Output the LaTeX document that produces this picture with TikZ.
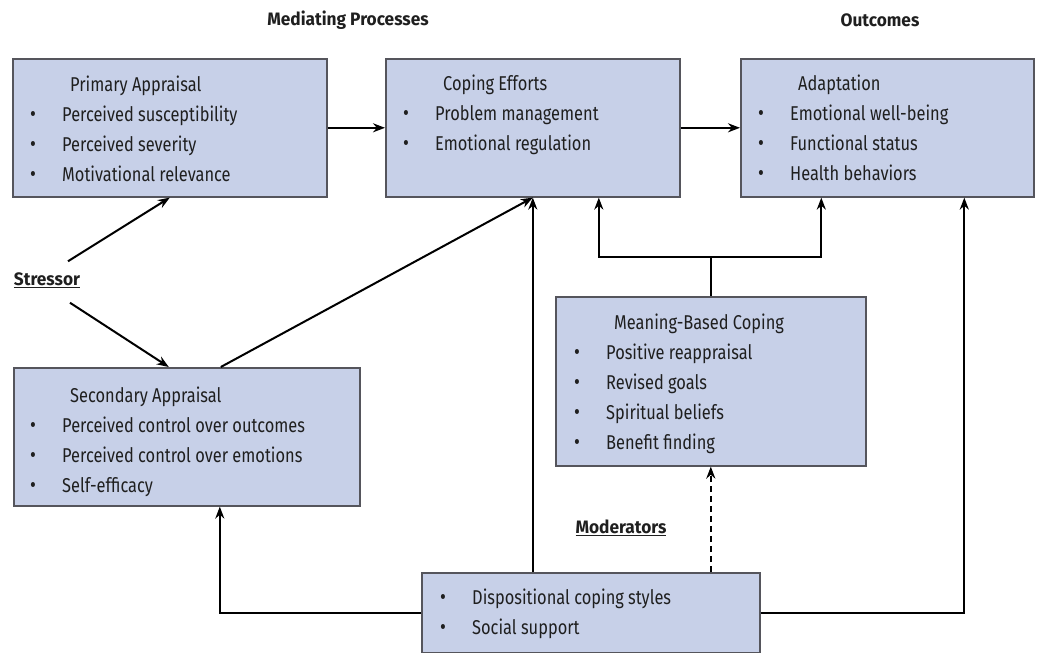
\documentclass[tikz,border=0pt]{standalone}
\usepackage{fontspec}
\setmainfont{Fira Sans}[FakeStretch=0.82]
\newfontfamily\lblfont{Fira Sans}[FakeStretch=0.96]
\usepackage{tikz}
\usetikzlibrary{arrows.meta}

\definecolor{boxfill}{RGB}{199,208,232}
\definecolor{boxline}{RGB}{85,85,92}
\newcommand{\itm}[1]{\makebox[32pt][l]{\raisebox{0.5pt}{\fontsize{22}{22}\selectfont\textbullet}}#1}
\newcommand{\hdg}[1]{\hspace*{40pt}#1}

\begin{document}
\begin{tikzpicture}[x=1pt, y=-1pt,
        box/.style={draw=boxline, fill=boxfill, line width=1.6pt, anchor=north west, inner sep=0pt},
        txt/.style={anchor=north west, align=left, inner sep=0pt, text=black!88, font=\fontsize{20}{30}\selectfont},
        arr/.style={line width=2pt, -{Stealth[length=12pt,width=9pt]}},
        lbl/.style={inner sep=2pt, text=black!88, font=\lblfont\fontsize{18}{20}\selectfont\bfseries}]
        \useasboundingbox (0,0) rectangle (1044,653);

        % Column titles
        \node[lbl] (medtitle) at (348,20) {Mediating Processes};
        \node[lbl] (outtitle) at (880,20) {Outcomes};

        % Draw the boxes
        \node[box, minimum width=314pt, minimum height=138pt] (primary) at (12,58) {};
        \node[box, minimum width=294pt, minimum height=138pt] (coping) at (385,58) {};
        \node[box, minimum width=293pt, minimum height=138pt] (adapt) at (740,58) {};
        \node[box, minimum width=346pt, minimum height=138pt] (secondary) at (13,367) {};
        \node[box, minimum width=310pt, minimum height=169pt] (meaning) at (555,296) {};
        \node[box, minimum width=338pt, minimum height=80pt] (moder) at (421,572) {};

        % Box texts
        \node[txt] (primarytxt) at ([xshift=18pt,yshift=-18pt]primary.north west)
            {\hdg{Primary Appraisal}\\ \itm{Perceived susceptibility}\\ \itm{Perceived severity}\\ \itm{Motivational relevance}};
        \node[txt] (copingtxt) at ([xshift=18pt,yshift=-17pt]coping.north west)
            {\hdg{Coping Efforts}\\ \itm{Problem management}\\ \itm{Emotional regulation}};
        \node[txt] (adapttxt) at ([xshift=18pt,yshift=-17pt]adapt.north west)
            {\hdg{Adaptation}\\ \itm{Emotional well-being}\\ \itm{Functional status}\\ \itm{Health behaviors}};
        \node[txt] (secondarytxt) at ([xshift=17pt,yshift=-20pt]secondary.north west)
            {\hdg{Secondary Appraisal}\\ \itm{Perceived control over outcomes}\\ \itm{Perceived control over emotions}\\ \itm{Self-efficacy}};
        \node[txt] (meaningtxt) at ([xshift=19pt,yshift=-18pt]meaning.north west)
            {\hdg{Meaning-Based Coping}\\ \itm{Positive reappraisal}\\ \itm{Revised goals}\\ \itm{Spiritual beliefs}\\ \itm{Benefit finding}};
        \node[txt] (modertxt) at ([xshift=19pt,yshift=-17pt]moder.north west)
            {\itm{Dispositional coping styles}\\ \itm{Social support}};

        % Free labels
        \node[lbl] (stressor) at (47,280) {\underline{Stressor}};
        \node[lbl] (modlabel) at (621,528) {\underline{Moderators}};

        % Main chain
        \draw[arr] (primary.east) -- (coping.west);
        \draw[arr] (coping.east) -- (adapt.west);

        % Stressor into the appraisals
        \draw[arr] ([xshift=21pt,yshift=9pt]stressor.north) -- (primary.south);
        \draw[arr] ([xshift=23pt,yshift=-13pt]stressor.south) -- ([xshift=-18pt]secondary.north);
        \draw[arr] ([xshift=34pt]secondary.north) -- (coping.south);

        % Meaning-based coping feeds back
        \coordinate (split) at ([yshift=39pt]meaning.north);
        \draw[line width=2pt] (meaning.north) -- (split);
        \draw[arr] (split) -| ([xshift=66pt]coping.south);
        \draw[arr] (split) -| ([xshift=-66pt]adapt.south);

        % Moderators
        \draw[arr] (moder.north -| coping.south) -- (coping.south);
        \draw[arr, dash pattern=on 6pt off 4pt] (moder.north -| meaning.south) -- (meaning.south);
        \draw[arr] (moder.west) -| ([xshift=33pt]secondary.south);
        \draw[arr] (moder.east) -| ([xshift=77pt]adapt.south);
    \end{tikzpicture}
\end{document}
